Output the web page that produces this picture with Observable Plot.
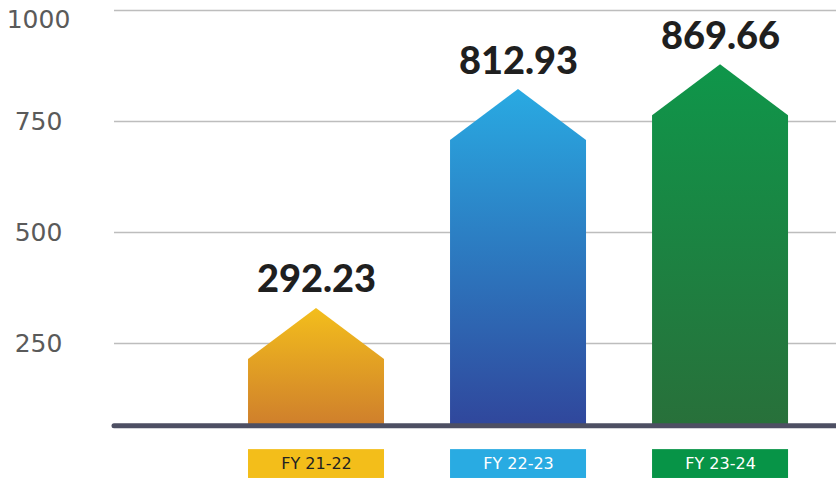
<!DOCTYPE html>
<html>
<head>
<meta charset="utf-8">
<script src="https://cdn.jsdelivr.net/npm/d3@7"></script>
<script src="https://cdn.jsdelivr.net/npm/@observablehq/plot@0.6"></script>
<style>
  html, body { margin: 0; padding: 0; background: #fff; }
  #chart svg { display: block; }
</style>
</head>
<body>
<div id="chart"></div>
<script>
// ---- data ----
const years = ["FY 21-22", "FY 22-23", "FY 23-24"];
const values = [292.23, 812.93, 869.66];          // printed labels
const arrowTips = [329, 822, 878];                 // arrow tip heights as drawn
const headDepth = 115;                             // arrow head depth in axis units
const baseValue = 65;                              // baseline as drawn
const yTicks = [250, 500, 750, 1000];
const boxColors = ["#f3be1a", "#29abe2", "#079447"];
const boxText = ["#222222", "#ffffff", "#ffffff"];
const gradTop = ["#f3be1c", "#29aae2", "#0f964a"];
const gradBottom = ["#cf7f2c", "#30479c", "#28703a"];

const hw = 0.3366;
const bars = years.map((year, i) => ({i, year, value: values[i], tip: arrowTips[i], cx: i + 1}));

const tickStyle = {tickSize: 0, textAnchor: "middle", dx: -67, label: null,
  fontSize: 25, fill: "#5a5a5a", fontWeight: 400, tickFormat: d => String(d)};

const marks = [
  Plot.ruleY(yTicks, {stroke: "#bdbdbd", strokeWidth: 1.5}),
  Plot.axisY({ticks: [250, 500, 750], ...tickStyle}),
  Plot.axisY({ticks: [1000], dy: 9, ...tickStyle}),
];

bars.forEach((b, i) => {
  const shape = [
    {x: b.cx - hw, y: b.tip - headDepth},
    {x: b.cx, y: b.tip},
    {x: b.cx + hw, y: b.tip - headDepth}
  ];
  marks.push(Plot.areaY(shape, {x: "x", y1: baseValue, y2: "y", fill: `url(#grad${i})`, curve: "linear"}));
});

marks.push(Plot.ruleY([baseValue], {stroke: "#4d4f63", strokeWidth: 5, strokeLinecap: "round"}));

marks.push(Plot.text(bars, {x: "cx", y: "tip", text: d => d.value.toFixed(2), dy: -16, lineAnchor: "bottom",
  textAnchor: "middle", fontSize: 38, fontWeight: 900, fill: "#1f1f1f", fontFamily: "Lato"}));

marks.push(Plot.rect(bars, {x1: d => d.cx - hw, x2: d => d.cx + hw, y1: 11, y2: -54, fill: d => boxColors[d.i]}));
marks.push(Plot.text(bars, {x: "cx", y: -21.5, text: "year", fill: d => boxText[d.i], fontSize: 16,
  textAnchor: "middle", fontFamily: "DejaVu Sans", fontWeight: 400}));

const chart = Plot.plot({
  width: 836,
  height: 481,
  marginLeft: 114,
  marginRight: 0,
  marginTop: 0,
  marginBottom: 0,
  style: {fontFamily: "DejaVu Sans", background: "#fff"},
  x: {domain: [0, 3.574], axis: null},
  y: {domain: [0, 1000], range: [454, 10], axis: null},
  color: {type: "identity"},
  marks
});

const svg = d3.select(chart);
const defs = svg.insert("defs", ":first-child");
gradTop.forEach((c, i) => {
  const g = defs.append("linearGradient").attr("id", `grad${i}`)
    .attr("x1", 0).attr("y1", 0).attr("x2", 0).attr("y2", 1);
  g.append("stop").attr("offset", "0%").attr("stop-color", c);
  g.append("stop").attr("offset", "100%").attr("stop-color", gradBottom[i]);
});

document.getElementById("chart").appendChild(chart);
</script>
</body>
</html>
